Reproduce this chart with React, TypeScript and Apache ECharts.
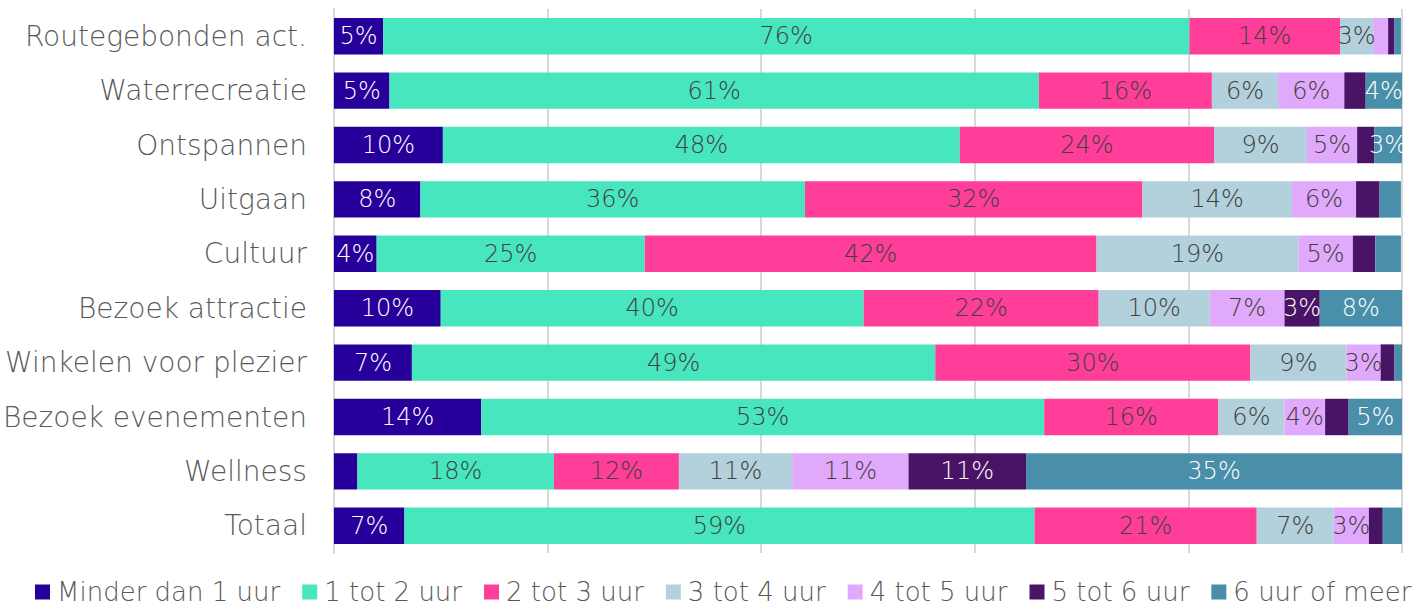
import React, { useEffect, useRef } from "react";
import * as echarts from "echarts";

const categories = [
  "Routegebonden act.",
  "Waterrecreatie",
  "Ontspannen",
  "Uitgaan",
  "Cultuur",
  "Bezoek attractie",
  "Winkelen voor plezier",
  "Bezoek evenementen",
  "Wellness",
  "Totaal",
];

const seriesNames = [
  "Minder dan 1 uur",
  "1 tot 2 uur",
  "2 tot 3 uur",
  "3 tot 4 uur",
  "4 tot 5 uur",
  "5 tot 6 uur",
  "6 uur of meer",
];

const minderDan1 = [4.6, 5.2, 10.2, 8.1, 4.0, 10.0, 7.3, 13.8, 2.2, 6.6];
const een2 = [75.5, 60.8, 48.4, 36.0, 25.1, 39.6, 49.0, 52.7, 18.4, 59.0];
const twee3 = [14.1, 16.2, 23.8, 31.6, 42.3, 22.0, 29.5, 16.3, 11.7, 20.8];
const drie4 = [3.1, 6.2, 8.7, 14.0, 18.9, 10.4, 9.0, 6.2, 10.6, 7.2];
const vier5 = [1.4, 6.2, 4.7, 6.0, 5.1, 7.0, 3.2, 3.8, 10.9, 3.3];
const vijf6 = [0.6, 2.0, 1.6, 2.2, 2.1, 3.3, 1.3, 2.2, 11.0, 1.3];
const zesPlus = [0.6, 3.5, 2.6, 2.0, 2.4, 7.7, 0.7, 5.0, 35.2, 1.8];

const seriesValues = [minderDan1, een2, twee3, drie4, vier5, vijf6, zesPlus];
const colors = ["#27009B", "#48E6BE", "#FF3E99", "#B2D1DC", "#E0A9FB", "#491465", "#4A8FAA"];
const labelColors = ["#FFFFFF", "#404040", "#404040", "#404040", "#404040", "#FFFFFF", "#FFFFFF"];

const FONT = "'DejaVu Sans', sans-serif";

export default function App() {
  const ref = useRef<HTMLDivElement>(null);
  useEffect(() => {
    if (!ref.current) return;
    const chart = echarts.init(ref.current, undefined, { renderer: "svg" });
    chart.setOption({
      animation: false,
      color: colors,
      grid: { left: 332, right: 16, top: 9, bottom: 53, containLabel: false },
      legend: {
        data: seriesNames,
        bottom: -4,
        left: 30,
        itemWidth: 15,
        itemHeight: 15,
        itemGap: 22,
        icon: "rect",
        textStyle: { fontFamily: FONT, fontSize: 26, fontWeight: 200, color: "#595959", padding: [0, 0, 0, 2] },
      },
      xAxis: {
        type: "value",
        min: 0,
        max: 100,
        interval: 20,
        axisLabel: { show: false },
        axisTick: { show: false },
        axisLine: { show: false },
        splitLine: { show: true, lineStyle: { color: "#D9D9D9", width: 2 } },
      },
      yAxis: {
        type: "category",
        data: categories,
        inverse: true,
        axisTick: { show: false },
        axisLine: { show: true, lineStyle: { color: "#D9D9D9", width: 2 } },
        axisLabel: { fontFamily: FONT, fontSize: 28, fontWeight: 200, color: "#595959", margin: 27 },
      },
      series: seriesNames.map((name, i) => ({
        name,
        type: "bar",
        stack: "total",
        barCategoryGap: "33%",
        data: seriesValues[i],
        itemStyle: { color: colors[i] },
        label: {
          show: true,
          position: "inside",
          fontFamily: FONT,
          fontSize: 24,
          fontWeight: 200,
          color: labelColors[i],
          formatter: (p: any) => (p.value >= 2.5 ? Math.round(p.value) + "%" : ""),
        },
      })),
    });
    return () => chart.dispose();
  }, []);
  return <div ref={ref} style={{ width: 1418, height: 606, position: "absolute", left: 0, top: 0 }} />;
}
